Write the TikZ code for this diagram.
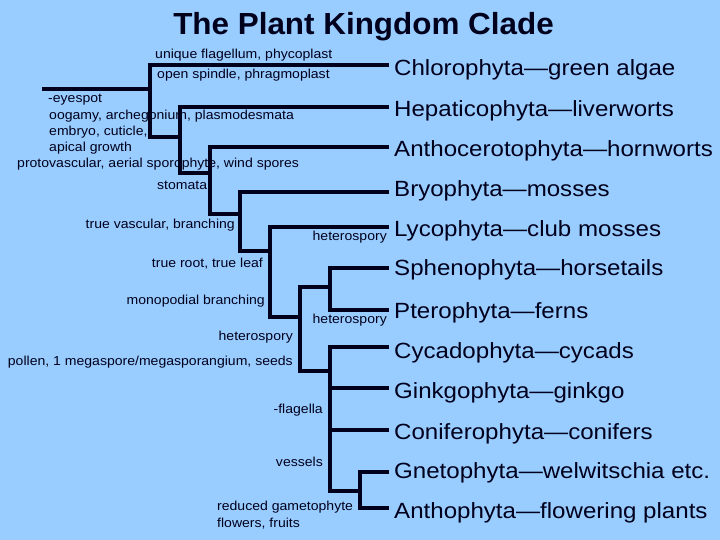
\documentclass[tikz,border=0pt]{standalone}
\usepackage{fontspec}
\setmainfont{Liberation Sans}
\newfontfamily\ArialX[FakeStretch=1.08]{Liberation Sans}
\newfontfamily\ArialL[FakeStretch=1.095]{Liberation Sans}
\newfontfamily\ArialXB[FakeStretch=1.03]{Liberation Sans Bold}
\newcommand\LeafF{\ArialL\fontsize{22bp}{26bp}\selectfont}
\newcommand\SmallF{\ArialX\fontsize{13bp}{15bp}\selectfont}
\newcommand\TitleF{\ArialXB\fontsize{30.5bp}{36bp}\selectfont}
\definecolor{bg}{HTML}{99CCFF}
\definecolor{ink}{HTML}{00001C}
\begin{document}
\begin{tikzpicture}[x=1bp,y=-1bp,
  br/.style={line width=4bp, draw=ink, line join=miter},
  leaf/.style={anchor=base west, inner sep=0pt, text=ink, font=\LeafF},
  smw/.style={anchor=base west, inner sep=0pt, text=ink, font=\SmallF},
  sme/.style={anchor=base east, inner sep=0pt, text=ink, font=\SmallF}]
\fill[bg] (0,0) rectangle (720,540);
\useasboundingbox (0,0) rectangle (720,540);

\node[anchor=base, inner sep=0pt, text=ink, font=\TitleF] (title) at (363.5,35) {The Plant Kingdom Clade};

% coordinates of the tree
\coordinate (root) at (42,89);
\coordinate (n1t) at (150,65);  \coordinate (n1b) at (150,137);
\coordinate (n2t) at (180,107); \coordinate (n2b) at (180,173);
\coordinate (n3t) at (210,147); \coordinate (n3b) at (210,214);
\coordinate (n4t) at (240,192); \coordinate (n4b) at (240,251);
\coordinate (n5t) at (270,227); \coordinate (n5b) at (270,317);
\coordinate (n6t) at (300,287); \coordinate (n6b) at (300,371);
\coordinate (n7t) at (330,268); \coordinate (n7b) at (330,310);
\coordinate (n8t) at (330,347); \coordinate (n8b) at (330,491);
\coordinate (n8g) at (330,388); \coordinate (n8c) at (330,430);
\coordinate (n9t) at (360,472); \coordinate (n9b) at (360,508);

\coordinate (e1) at (389,65);
\coordinate (e2) at (389,107);
\coordinate (e3) at (389,147);
\coordinate (e4) at (389,192);
\coordinate (e5) at (389,227);
\coordinate (e6) at (389,268);
\coordinate (e7) at (389,310);
\coordinate (e8) at (389,347);
\coordinate (e9) at (389,388);
\coordinate (e10) at (389,430);
\coordinate (e11) at (389,472);
\coordinate (e12) at (389,508);

\draw[br] (root) -- (root -| n1t);
\draw[br] (e1) -- (n1t) -- (n1b) -- (n2b |- n1b);
\draw[br] (e2) -- (n2t) -- (n2b) -- (n3b |- n2b);
\draw[br] (e3) -- (n3t) -- (n3b) -- (n4b |- n3b);
\draw[br] (e4) -- (n4t) -- (n4b) -- (n5b |- n4b);
\draw[br] (e5) -- (n5t) -- (n5b) -- (n6b |- n5b);
\draw[br] (n7t |- n6t) -- (n6t) -- (n6b) -- (n8t |- n6b);
\draw[br] (e6) -- (n7t) -- (n7b) -- (e7);
\draw[br] (e8) -- (n8t) -- (n8b) -- (n9t |- n8b);
\draw[br] (n8g) -- (e9);
\draw[br] (n8c) -- (e10);
\draw[br] (e11) -- (n9t) -- (n9b) -- (e12);

% leaf labels
\node[leaf] (l1) at (394,76) {Chlorophyta—green algae};
\node[leaf] (l2) at (394,117) {Hepaticophyta—liverworts};
\node[leaf] (l3) at (394,157) {Anthocerotophyta—hornworts};
\node[leaf] (l4) at (394,197) {Bryophyta—mosses};
\node[leaf] (l5) at (394,237) {Lycophyta—club mosses};
\node[leaf] (l6) at (394,276) {Sphenophyta—horsetails};
\node[leaf] (l7) at (394,318) {Pterophyta—ferns};
\node[leaf] (l8) at (394,358) {Cycadophyta—cycads};
\node[leaf] (l9) at (394,398) {Ginkgophyta—ginkgo};
\node[leaf] (l10) at (394,439) {Coniferophyta—conifers};
\node[leaf] (l11) at (394,478) {Gnetophyta—welwitschia etc.};
\node[leaf] (l12) at (394,518) {Anthophyta—flowering plants};

% character labels
\node[smw] (c1) at (155,59) {unique flagellum, phycoplast};
\node[smw] (c2) at (157,79) {open spindle, phragmoplast};
\node[smw] (c3) at (48,103) {-eyespot};
\node[smw] (c4) at (49,120) {oogamy, archegonium, plasmodesmata};
\node[smw] (c5) at (49,136) {embryo, cuticle,};
\node[smw] (c6) at (49,152) {apical growth};
\node[smw] (c7) at (17,168) {protovascular, aerial sporophyte, wind spores};
\node[smw] (c8) at (157,190) {stomata};
\node[sme] (c9) at (235,229) {true vascular, branching};
\node[sme] (c10) at (387,241) {heterospory};
\node[sme] (c11) at (263,268) {true root, true leaf};
\node[sme] (c12) at (265,304) {monopodial branching};
\node[sme] (c13) at (387,323) {heterospory};
\node[sme] (c14) at (293,340) {heterospory};
\node[sme] (c15) at (293,365) {pollen, 1 megaspore/megasporangium, seeds};
\node[sme] (c16) at (323,413) {-flagella};
\node[sme] (c17) at (323,466) {vessels};
\node[smw] (c18) at (217,510) {reduced gametophyte};
\node[smw] (c19) at (217,527) {flowers, fruits};
\end{tikzpicture}
\end{document}
